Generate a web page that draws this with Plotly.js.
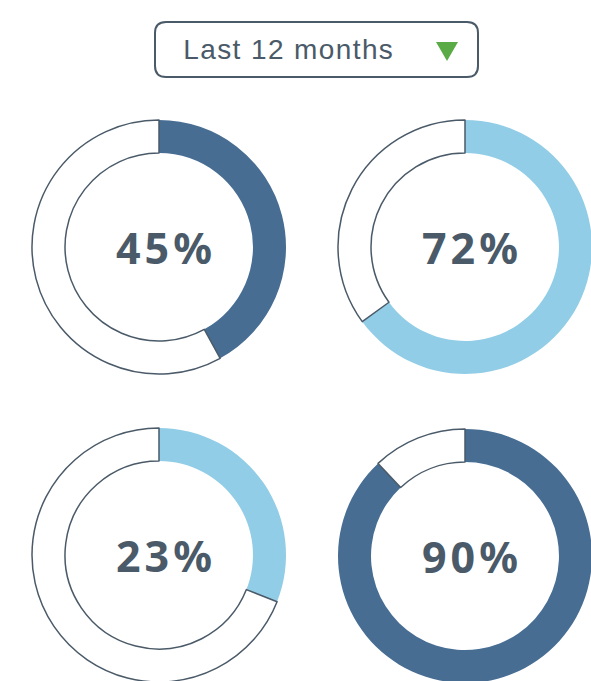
<!DOCTYPE html>
<html>
<head>
<meta charset="utf-8">
<script src="https://cdn.plot.ly/plotly-3.0.1.min.js"></script>
<style>
html,body{margin:0;padding:0;overflow:hidden;background:#fff;}
#chart{width:600px;height:700px;}
</style>
</head>
<body>
<div id="chart"></div>
<script>
// Data
const labels = ["45%", "72%", "23%", "90%"];
const arcValues = [42, 65, 31, 88];          // filled share as drawn
const arcColors = ["#476d93", "#91cde6", "#91cde6", "#476d93"];
const dropdownLabel = "Last 12 months";

// Layout helpers (fixed 600x700 paper, zero margins)
const W = 600, H = 700;
const px = x => x / W;
const py = y => 1 - y / H;
const centers = [[159, 247], [465, 247], [159, 555], [465, 556]];
const R = 127;
const outline = "#4a5a68";

const traces = arcValues.map((v, i) => {
  const [cx, cy] = centers[i];
  return {
    type: "pie",
    values: [v, 100 - v],
    labels: ["filled", "empty"],
    sort: false,
    direction: "clockwise",
    rotation: 0,
    hole: 0.74,
    textinfo: "none",
    hoverinfo: "skip",
    showlegend: false,
    marker: {
      colors: [arcColors[i], "rgba(255,255,255,1)"],
      line: { color: [arcColors[i], outline], width: [0, 1.5] }
    },
    domain: {
      x: [px(cx - R), Math.min(1, px(cx + R))],
      y: [py(cy + R), py(cy - R)]
    }
  };
});

const annotations = labels.map((t, i) => ({
  text: t,
  x: px(centers[i][0] + 7), y: py(centers[i][1]),
  xref: "paper", yref: "paper",
  showarrow: false,
  xanchor: "center", yanchor: "middle",
  font: { family: "Noto Sans", size: 43, color: "#4a5a68", weight: 700 }
}));
annotations.push({
  text: dropdownLabel,
  x: px(191), y: py(50),
  xref: "paper", yref: "paper",
  showarrow: false,
  xanchor: "left", yanchor: "middle",
  font: { family: "Liberation Sans", size: 28, color: "#4a5a68" }
});

// rounded rect path in paper coords
const bx0 = 155, bx1 = 478, by0 = 22, by1 = 77, rr = 11;
function P(x, y) { return px(x) + "," + py(y); }
const rectPath =
  "M" + P(bx0 + rr, by0) +
  " L" + P(bx1 - rr, by0) +
  " Q" + P(bx1, by0) + " " + P(bx1, by0 + rr) +
  " L" + P(bx1, by1 - rr) +
  " Q" + P(bx1, by1) + " " + P(bx1 - rr, by1) +
  " L" + P(bx0 + rr, by1) +
  " Q" + P(bx0, by1) + " " + P(bx0, by1 - rr) +
  " L" + P(bx0, by0 + rr) +
  " Q" + P(bx0, by0) + " " + P(bx0 + rr, by0) + " Z";
const triPath = "M" + P(436, 42) + " L" + P(458, 42) + " L" + P(447, 61) + " Z";

const layout = {
  width: W, height: H,
  margin: { l: 0, r: 0, t: 0, b: 0 },
  paper_bgcolor: "#ffffff",
  showlegend: false,
  annotations: annotations,
  shapes: [
    { type: "path", xref: "paper", yref: "paper", path: rectPath,
      line: { color: outline, width: 2 }, fillcolor: "rgba(0,0,0,0)" },
    { type: "path", xref: "paper", yref: "paper", path: triPath,
      line: { width: 0 }, fillcolor: "#5aab46" }
  ]
};

Plotly.newPlot("chart", traces, layout, { staticPlot: true }).then(() => {
  const texts = document.querySelectorAll(".annotation-text");
  texts.forEach((t, i) => {
    t.style.letterSpacing = i < labels.length ? "4px" : "1.4px";
  });
});
</script>
</body>
</html>
